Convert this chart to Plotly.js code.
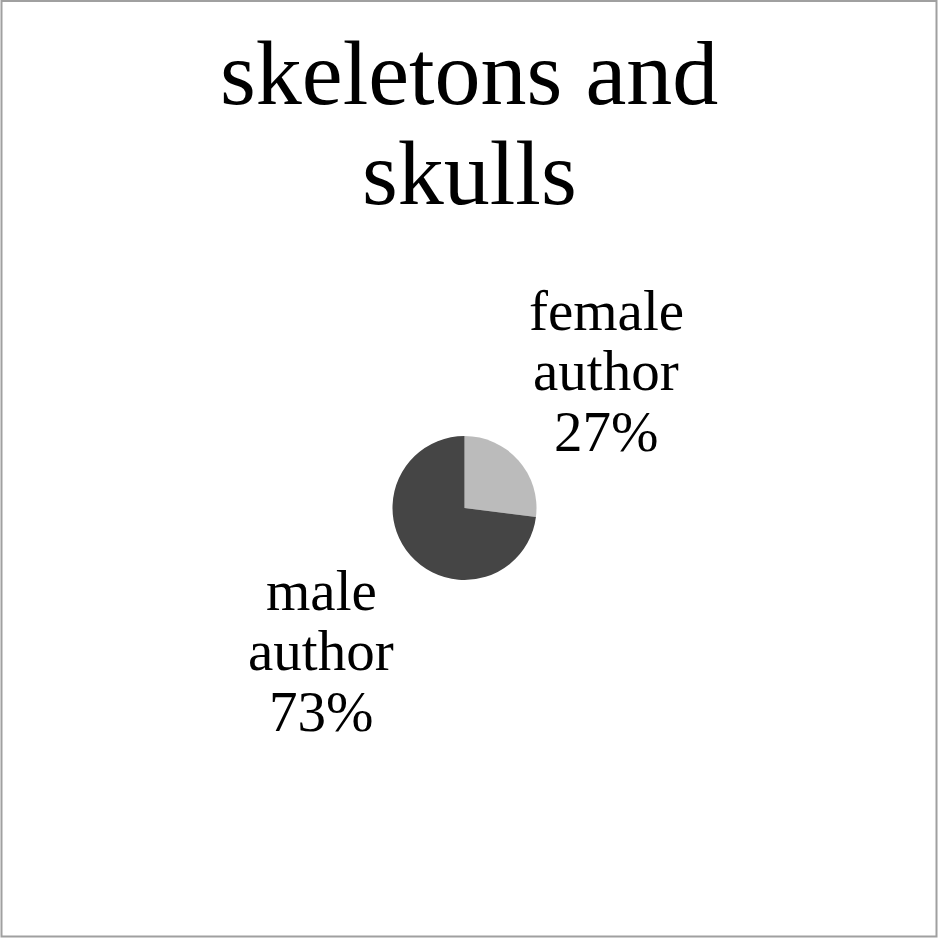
<!DOCTYPE html>
<html>
<head>
<meta charset="utf-8">
<script src="https://cdn.plot.ly/plotly-3.0.1.min.js"></script>
<style>html,body{margin:0;padding:0;background:#fff;}#chart{width:938px;height:938px;}</style>
</head>
<body>
<div id="chart"></div>
<script>
const categories = ["female author", "male author"];
const values = [27, 73];
const colors = ["#bbbbbb", "#454545"];
const titleLines = ["skeletons and", "skulls"];

const fontFam = "Liberation Serif, serif";
const W = 938, H = 938;
const px = x => x / W, py = y => 1 - y / H;

function lineAnn(text, cx, baseline, size) {
  return {
    text: text, x: px(cx), y: py(baseline - 0.35 * size),
    xref: "paper", yref: "paper", xanchor: "center", yanchor: "middle",
    showarrow: false, align: "center",
    font: {family: fontFam, size: size, color: "#000"}
  };
}

const annotations = [];
// title lines
const titleSize = 92;
titleLines.forEach((t, i) => annotations.push(lineAnn(t, 469, 105 + i * 100, titleSize)));
// slice labels
const labelAnchors = [[606, 330], [321, 610]];
const labelSize = 57;
categories.forEach((c, i) => {
  const lines = c.split(" ").concat([values[i] + "%"]);
  lines.forEach((t, j) => annotations.push(lineAnn(t, labelAnchors[i][0], labelAnchors[i][1] + j * 60.5, labelSize)));
});

const data = [{
  type: "pie",
  labels: categories,
  values: values,
  marker: {colors: colors, line: {width: 0}},
  sort: false,
  direction: "clockwise",
  rotation: 0,
  textinfo: "none",
  hoverinfo: "label+percent",
  showlegend: false,
  domain: {x: [px(392.5), px(536.5)], y: [py(580), py(436)]}
}];

const layout = {
  width: W, height: H,
  margin: {l: 0, r: 0, t: 0, b: 0},
  paper_bgcolor: "#fff",
  showlegend: false,
  annotations: annotations,
  shapes: [{type: "rect", xref: "paper", yref: "paper", x0: px(1.5), x1: px(936.5), y0: py(936.5), y1: py(1), line: {color: "#a0a0a0", width: 2}}]
};

Plotly.newPlot("chart", data, layout, {displayModeBar: false, staticPlot: true});
</script>
</body>
</html>
